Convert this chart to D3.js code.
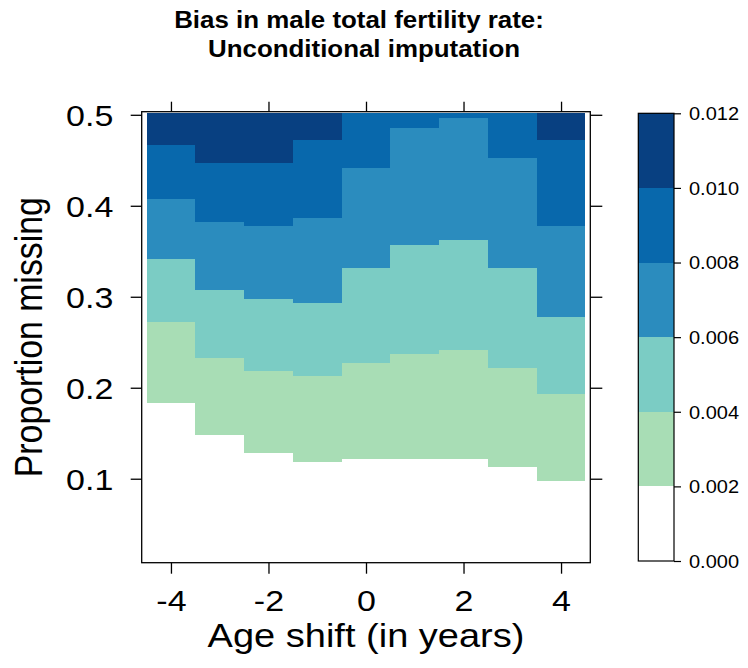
<!DOCTYPE html>
<html>
<head>
<meta charset="utf-8">
<script src="https://cdn.jsdelivr.net/npm/d3@7"></script>
<style>
  body { margin: 0; background: #fff; }
  svg { display: block; }
  text { font-family: "Liberation Sans", Arial, sans-serif; fill: #000; }
</style>
</head>
<body>
<svg id="chart" width="748" height="668"></svg>
<script>
// Age shift of the simulated male ages (years), one column each
const ageShift = [-4, -3, -2, -1, 0, 1, 2, 3, 4];
// Bias classes shown in the colour key
const biasBreaks = [0, 0.002, 0.004, 0.006, 0.008, 0.010, 0.012];
// Proportion missing at which the bias first reaches each break, per age shift
const reach002 = [0.183, 0.148, 0.128, 0.118, 0.122, 0.122, 0.122, 0.113, 0.098];
const reach004 = [0.272, 0.233, 0.218, 0.213, 0.227, 0.237, 0.242, 0.222, 0.193];
const reach006 = [0.342, 0.307, 0.297, 0.293, 0.332, 0.357, 0.362, 0.332, 0.278];
const reach008 = [0.407, 0.382, 0.378, 0.387, 0.442, 0.486, 0.497, 0.453, 0.378];
const reach010 = [0.467, 0.447, 0.447, 0.472, null, null, null, null, 0.472];
// Extent of the grid of proportions missing that was simulated
const propGrid = [0.008, 0.502];
// Axis ticks
const xTicks = [-4, -2, 0, 2, 4];
const yTicks = [0.1, 0.2, 0.3, 0.4, 0.5];
const keyTicks = [0, 0.002, 0.004, 0.006, 0.008, 0.010, 0.012];

const palette = ["#ffffff", "#a8ddb5", "#7bccc4", "#2b8cbe", "#0868ac", "#084081"];
const SY = 0.89; // vertical squeeze applied to all lettering

const svg = d3.select("#chart");

const box = { left: 141.7, right: 590.3, top: 111.7, bottom: 562.7 };
const x = d3.scaleLinear().domain([-4.6, 4.6]).range([box.left, box.right]);
const y = d3.scaleLinear().domain([0.0077, 0.5034]).range([box.bottom, box.top]);

// ---- level plot cells -------------------------------------------------
const cells = [];
ageShift.forEach((a, i) => {
  const top = propGrid[1];
  const edges = [propGrid[0], reach002[i], reach004[i], reach006[i], reach008[i],
                 reach010[i] == null ? top : reach010[i], top];
  for (let k = 0; k < palette.length; k++) {
    if (edges[k + 1] > edges[k]) {
      cells.push({ a, lo: edges[k], hi: edges[k + 1], band: k });
    }
  }
});

svg.append("g")
  .attr("shape-rendering", "crispEdges")
  .selectAll("rect")
  .data(cells)
  .join("rect")
  .attr("x", d => x(d.a - 0.5))
  .attr("width", d => x(d.a + 0.5) - x(d.a - 0.5))
  .attr("y", d => y(d.hi))
  .attr("height", d => y(d.lo) - y(d.hi))
  .attr("fill", d => palette[d.band]);

// ---- axes --------------------------------------------------------------
function styleAxis(g) {
  g.select(".domain").remove();
  g.selectAll(".tick line").attr("stroke", "#000").attr("stroke-width", 1.3);
}

const gBottom = svg.append("g")
  .attr("transform", `translate(0,${box.bottom})`)
  .call(d3.axisBottom(x).tickValues(xTicks).tickSize(11).tickFormat(d3.format("d")))
  .call(styleAxis);
gBottom.selectAll(".tick text")
  .attr("y", null).attr("dy", null)
  .attr("text-anchor", "middle")
  .attr("font-size", 34)
  .attr("transform", `translate(0,48.3) scale(1,${SY})`)
  .text(d => d < 0 ? "-" + Math.abs(d) : String(d));

svg.append("g")
  .attr("transform", `translate(0,${box.top})`)
  .call(d3.axisTop(x).tickValues(xTicks).tickSize(10).tickFormat(""))
  .call(styleAxis);

const gLeft = svg.append("g")
  .attr("transform", `translate(${box.left},0)`)
  .call(d3.axisLeft(y).tickValues(yTicks).tickSize(11).tickFormat(d3.format(".1f")))
  .call(styleAxis);
gLeft.selectAll(".tick text")
  .attr("x", null).attr("dy", null)
  .attr("text-anchor", "end")
  .attr("font-size", 34)
  .attr("transform", `translate(-28.4,10.8) scale(1,${SY})`);

svg.append("g")
  .attr("transform", `translate(${box.right},0)`)
  .call(d3.axisRight(y).tickValues(yTicks).tickSize(12).tickFormat(""))
  .call(styleAxis);

// panel border
svg.append("rect")
  .attr("x", box.left).attr("y", box.top)
  .attr("width", box.right - box.left).attr("height", box.bottom - box.top)
  .attr("fill", "none").attr("stroke", "#000").attr("stroke-width", 1.3);

// ---- colour key --------------------------------------------------------
const key = { left: 638.3, right: 674, top: 113.3, bottom: 561 };
const k = d3.scaleLinear().domain([0, 0.012]).range([key.bottom, key.top]);

svg.append("g")
  .attr("shape-rendering", "crispEdges")
  .selectAll("rect")
  .data(d3.pairs(biasBreaks))
  .join("rect")
  .attr("x", key.left).attr("width", key.right - key.left)
  .attr("y", d => k(d[1]))
  .attr("height", d => k(d[0]) - k(d[1]))
  .attr("fill", (d, i) => palette[i]);

svg.append("rect")
  .attr("x", key.left).attr("y", key.top)
  .attr("width", key.right - key.left).attr("height", key.bottom - key.top)
  .attr("fill", "none").attr("stroke", "#000").attr("stroke-width", 1.2);

const gKey = svg.append("g")
  .attr("transform", `translate(${key.right},0)`)
  .call(d3.axisRight(k).tickValues(keyTicks).tickSize(7).tickFormat(d3.format(".3f")))
  .call(styleAxis);
gKey.selectAll(".tick line").attr("stroke-width", 1.2);
gKey.selectAll(".tick text")
  .attr("x", null).attr("dy", null)
  .attr("text-anchor", "start")
  .attr("font-size", 20)
  .attr("transform", `translate(15,6.4) scale(1,${SY})`);

// ---- titles ------------------------------------------------------------
svg.append("text")
  .attr("text-anchor", "middle").attr("font-weight", "bold").attr("font-size", 25.9)
  .attr("transform", `translate(359,28.3) scale(1,${SY})`)
  .text("Bias in male total fertility rate:");
svg.append("text")
  .attr("text-anchor", "middle").attr("font-weight", "bold").attr("font-size", 25.9)
  .attr("transform", `translate(364,56.7) scale(1,${SY})`)
  .text("Unconditional imputation");

svg.append("text")
  .attr("text-anchor", "middle").attr("font-size", 38)
  .attr("transform", `translate(366,647) scale(1,${SY})`)
  .text("Age shift (in years)");

svg.append("text")
  .attr("text-anchor", "middle").attr("font-size", 38)
  .attr("transform", `translate(41.7,337.2) rotate(-90) scale(${SY},1)`)
  .text("Proportion missing");
</script>
</body>
</html>
